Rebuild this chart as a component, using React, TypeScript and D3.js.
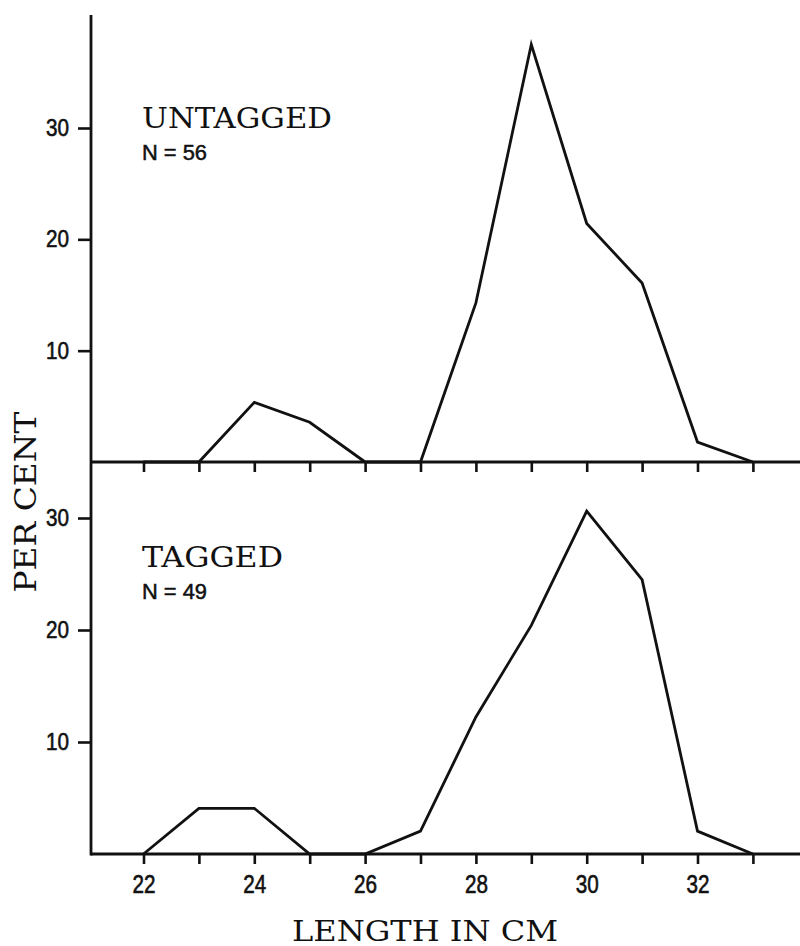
import * as d3 from "d3";
import { useLayoutEffect, useRef } from "react";

// length classes (cm)
const lengths = [22, 23, 24, 25, 26, 27, 28, 29, 30, 31, 32, 33];
// per cent of fish in each length class
const untagged = [0, 0, 5.36, 3.57, 0, 0, 14.29, 37.5, 21.43, 16.07, 1.79, 0];
const tagged = [0, 4.08, 4.08, 0, 0, 2.04, 12.24, 20.41, 30.61, 24.49, 2.04, 0];
const yTicks = [10, 20, 30];
const xLabels = [22, 24, 26, 28, 30, 32];

const W = 800;
const H = 946;
const axisX = 91;
const axisTop = 15;
const serif = "'DejaVu Serif', 'Liberation Serif', serif";
const sans = "'Liberation Sans', Arial, sans-serif";

export default function App() {
  const ref = useRef<SVGSVGElement>(null);

  useLayoutEffect(() => {
    const svg = d3.select(ref.current);
    svg.selectAll("*").remove();

    const x = d3.scaleLinear().domain([22, 32]).range([143.5, 697.5]);
    const yTop = d3.scaleLinear().domain([0, 30]).range([462, 128]);
    const yBot = d3.scaleLinear().domain([0, 30]).range([854, 518]);

    const panels = [
      { y: yTop, data: untagged, title: "UNTAGGED", n: "N = 56", tx: 142, ty: 128, tw: 190, nw: 65 },
      { y: yBot, data: tagged, title: "TAGGED", n: "N = 49", tx: 142, ty: 567, tw: 141, nw: 65 },
    ];

    panels.forEach((p, i) => {
      const base = p.y(0);

      // y ticks
      const ya = svg
        .append("g")
        .attr("transform", `translate(${axisX},0)`)
        .call(d3.axisLeft(p.y).tickValues(yTicks).tickSize(13).tickPadding(9));
      ya.select(".domain").remove();
      ya.selectAll("line").attr("stroke", "#111").attr("stroke-width", 2.6);
      ya.selectAll("text")
        .attr("font-family", sans)
        .attr("font-size", 23)
        .attr("fill", "#111")
        .attr("stroke", "#111")
        .attr("stroke-width", 0.6)
        .attr("textLength", 23)
        .attr("lengthAdjust", "spacingAndGlyphs");

      // x ticks
      const xa = svg
        .append("g")
        .attr("transform", `translate(0,${base})`)
        .call(
          d3
            .axisBottom(x)
            .tickValues(lengths)
            .tickSize(10)
            .tickPadding(11)
            .tickFormat((d) => (i === 1 && xLabels.includes(+d) ? String(d) : ""))
        );
      xa.select(".domain").remove();
      xa.selectAll("line").attr("stroke", "#111").attr("stroke-width", 2.6);
      xa.selectAll("text")
        .filter((d: any) => i === 1 && xLabels.includes(+d))
        .attr("font-family", sans)
        .attr("font-size", 25)
        .attr("fill", "#111")
        .attr("stroke", "#111")
        .attr("stroke-width", 0.6)
        .attr("textLength", 23)
        .attr("lengthAdjust", "spacingAndGlyphs");

      // baseline
      svg
        .append("line")
        .attr("x1", axisX)
        .attr("x2", W)
        .attr("y1", base)
        .attr("y2", base)
        .attr("stroke", "#111")
        .attr("stroke-width", 2.8);

      // frequency polygon
      const line = d3
        .line<number>()
        .x((_, j) => x(lengths[j]))
        .y((d) => p.y(d));
      svg
        .append("path")
        .attr("d", line(p.data))
        .attr("fill", "none")
        .attr("stroke", "#111")
        .attr("stroke-width", 2.8)
        .attr("stroke-linejoin", "miter");

      // labels
      svg
        .append("text")
        .attr("x", p.tx)
        .attr("y", p.ty)
        .attr("font-family", serif)
        .attr("font-size", 27)
        .attr("textLength", p.tw)
        .attr("lengthAdjust", "spacingAndGlyphs")
        .attr("fill", "#111")
        .text(p.title);
      svg
        .append("text")
        .attr("x", p.tx)
        .attr("y", p.ty + 32)
        .attr("font-family", sans)
        .attr("font-size", 22)
        .attr("textLength", p.nw)
        .attr("lengthAdjust", "spacingAndGlyphs")
        .attr("fill", "#111")
        .attr("stroke", "#111")
        .attr("stroke-width", 0.5)
        .text(p.n);
    });

    // y axis line
    svg
      .append("line")
      .attr("x1", axisX)
      .attr("x2", axisX)
      .attr("y1", axisTop)
      .attr("y2", yBot(0) + 1.4)
      .attr("stroke", "#111")
      .attr("stroke-width", 2.8);

    // axis titles
    svg
      .append("text")
      .attr("transform", `translate(36,502) rotate(-90)`)
      .attr("text-anchor", "middle")
      .attr("font-family", serif)
      .attr("font-size", 30)
      .attr("textLength", 181)
      .attr("lengthAdjust", "spacingAndGlyphs")
      .attr("fill", "#111")
      .text("PER CENT");
    svg
      .append("text")
      .attr("x", 425)
      .attr("y", 941)
      .attr("text-anchor", "middle")
      .attr("font-family", serif)
      .attr("font-size", 27)
      .attr("textLength", 266)
      .attr("lengthAdjust", "spacingAndGlyphs")
      .attr("fill", "#111")
      .text("LENGTH IN CM");
  }, []);

  return (
    <svg
      ref={ref}
      width={W}
      height={H}
      style={{ position: "absolute", left: 0, top: 0, background: "#fff" }}
    />
  );
}
